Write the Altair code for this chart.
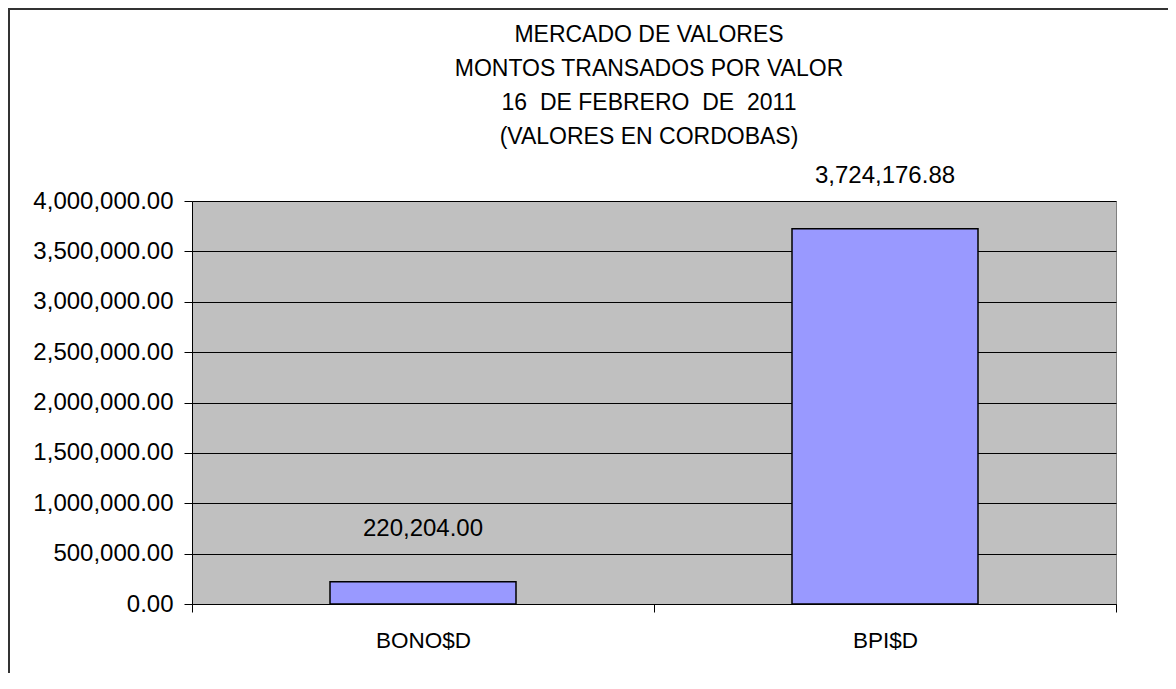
import altair as alt
import pandas as pd

# ---- data ----
categories = ["BONO$D", "BPI$D"]
montos = [220204.00, 3724176.88]
y_tick_values = [0, 500000, 1000000, 1500000, 2000000, 2500000, 3000000, 3500000, 4000000]
title_lines = [
    "MERCADO DE VALORES",
    "MONTOS TRANSADOS POR VALOR",
    "16\u00a0 DE FEBRERO\u00a0 DE\u00a0 2011",
    "(VALORES EN CORDOBAS)",
]

df = pd.DataFrame({"valor": categories, "monto": montos})

W, H = 924, 403
FONT = "Liberation Sans"
FS_NUM = 24
FS_CAT = 22.5

x_enc = alt.X(
    "valor:N",
    sort=categories,
    scale=alt.Scale(paddingInner=0, paddingOuter=0),
    axis=alt.Axis(
        title=None,
        labelAngle=0,
        tickBand="extent",
        tickSize=8,
        tickColor="#000000",
        domainColor="#000000",
        labelFont=FONT,
        labelFontSize=FS_CAT,
        labelColor="#000000",
        labelBaseline="middle",
        labelPadding=28,
        grid=False,
    ),
)
y_enc = alt.Y(
    "monto:Q",
    scale=alt.Scale(domain=[0, 4000000], nice=False),
    axis=alt.Axis(
        title=None,
        values=y_tick_values,
        format=",.2f",
        tickSize=8,
        tickColor="#000000",
        domainColor="#000000",
        grid=True,
        gridColor="#000000",
        gridWidth=1,
        gridOpacity=1,
        labelFont=FONT,
        labelFontSize=FS_NUM,
        labelColor="#000000",
        labelPadding=11,
    ),
)

base = alt.Chart(df)

frame = (
    alt.Chart(alt.Data(values=[{"f": 1}]))
    .mark_rect(fillOpacity=0, stroke="#333333", strokeWidth=2)
    .encode(
        x=alt.value(-183),
        x2=alt.value(W + 120),
        y=alt.value(-192),
        y2=alt.value(H + 120),
    )
)

bars = base.mark_bar(
    size=186, color="#9999FF", stroke="#000000", strokeWidth=1.5
).encode(x=x_enc, y=y_enc)

labels = base.mark_text(
    dy=-53, fontSize=FS_NUM, font=FONT, baseline="middle", color="#000000"
).encode(x=x_enc, y=y_enc, text=alt.Text("monto:Q", format=",.2f"))

chart = (
    alt.layer(frame, bars, labels)
    .properties(
        width=W,
        height=H,
        autosize=alt.AutoSizeParams(type="none"),
        padding={"left": 184, "top": 193, "right": 52, "bottom": 69},
        background="#FFFFFF",
        title=alt.Title(
            title_lines,
            font=FONT,
            fontSize=23,
            fontWeight="normal",
            color="#000000",
            lineHeight=34,
            anchor="middle",
            baseline="bottom",
            offset=-164,
            dx=-5,
        ),
    )
    .configure_view(fill="#C0C0C0", stroke="#808080", strokeWidth=1)
)

chart.save("out.html", embed_options={"renderer": "svg", "actions": False})
